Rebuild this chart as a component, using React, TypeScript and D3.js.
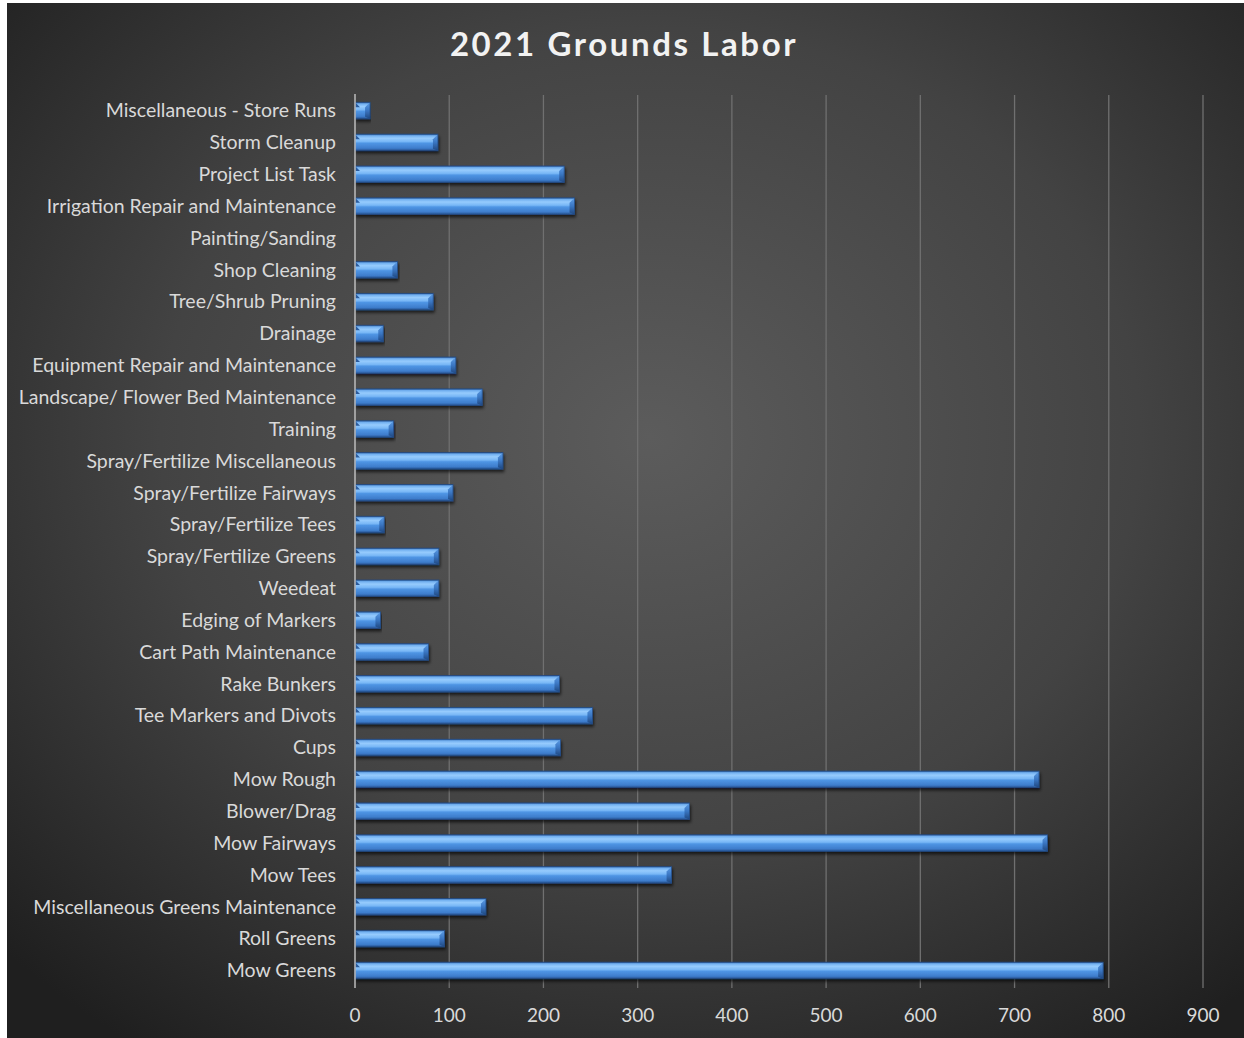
import React from "react";
import * as d3 from "d3";

const categories: string[] = [
  "Miscellaneous - Store Runs",
  "Storm Cleanup",
  "Project List Task",
  "Irrigation Repair and Maintenance",
  "Painting/Sanding",
  "Shop Cleaning",
  "Tree/Shrub Pruning",
  "Drainage",
  "Equipment Repair and Maintenance",
  "Landscape/ Flower Bed Maintenance",
  "Training",
  "Spray/Fertilize Miscellaneous",
  "Spray/Fertilize Fairways",
  "Spray/Fertilize Tees",
  "Spray/Fertilize Greens",
  "Weedeat",
  "Edging of Markers",
  "Cart Path Maintenance",
  "Rake Bunkers",
  "Tee Markers and Divots",
  "Cups",
  "Mow Rough",
  "Blower/Drag",
  "Mow Fairways",
  "Mow Tees",
  "Miscellaneous Greens Maintenance",
  "Roll Greens",
  "Mow Greens",
];

const hours: number[] = [
  16, 88, 222, 233, 1, 45, 83, 30, 107, 135, 41, 157, 104, 31, 89, 89, 27, 78,
  217, 252, 218, 726, 355, 735, 336, 139, 95, 794,
];

const xTicks: number[] = [0, 100, 200, 300, 400, 500, 600, 700, 800, 900];

const title = "2021 Grounds Labor";

const W = 1244;
const H = 1038;
const FONT = "Lato, 'Open Sans', 'Liberation Sans', sans-serif";

export default function App() {
  const x = d3.scaleLinear().domain([0, 900]).range([355, 1203]);
  const y = d3
    .scaleBand<string>()
    .domain(categories)
    .range([94, 987])
    .paddingInner(0.48)
    .paddingOuter(0.26);
  const bh = y.bandwidth();

  return (
    <svg
      width={W}
      height={H}
      style={{ position: "absolute", left: 0, top: 0, background: "#fff" }}
    >
      <defs>
        <radialGradient id="bg" cx="52%" cy="42%" r="72%">
          <stop offset="0%" stopColor="#5c5c5c" />
          <stop offset="55%" stopColor="#434343" />
          <stop offset="100%" stopColor="#1f1f1f" />
        </radialGradient>
        <linearGradient id="barG" x1="0" y1="0" x2="0" y2="1">
          <stop offset="0%" stopColor="#2f63a8" />
          <stop offset="10%" stopColor="#72b0f0" />
          <stop offset="25%" stopColor="#96cbfd" />
          <stop offset="45%" stopColor="#78b7f6" />
          <stop offset="55%" stopColor="#4f95e4" />
          <stop offset="85%" stopColor="#3e7dcc" />
          <stop offset="100%" stopColor="#244f8c" />
        </linearGradient>
        <linearGradient id="capG" x1="0" y1="0" x2="0" y2="1">
          <stop offset="0%" stopColor="#5c9ce6" />
          <stop offset="50%" stopColor="#3a76c2" />
          <stop offset="100%" stopColor="#1f4780" />
        </linearGradient>
        <filter id="shadow" x="-5%" y="-50%" width="110%" height="220%">
          <feDropShadow dx="1" dy="2.5" stdDeviation="1.6" floodColor="#000" floodOpacity="0.65" />
        </filter>
      </defs>
      <rect x={7} y={3} width={W - 7} height={H - 3} fill="url(#bg)" />

      <text
        x={624}
        y={56}
        textAnchor="middle"
        fill="#f2f2f2"
        fontFamily={FONT}
        fontWeight={700}
        fontSize={33}
        letterSpacing={2.6}
      >
        {title}
      </text>

      {xTicks.slice(1).map((t) => (
        <line
          key={"g" + t}
          x1={x(t)}
          x2={x(t)}
          y1={95}
          y2={988}
          stroke="#707070"
          strokeWidth={1.3}
        />
      ))}

      {categories.map((c, i) => {
        const v = hours[i];
        const x0 = x(0);
        const x1 = x(v);
        const w = x1 - x0;
        const y0 = y(c)!;
        if (w < 1.5) return null;
        const b = Math.min(5, w / 2);
        return (
          <g key={c} filter="url(#shadow)">
            <rect x={x0} y={y0} width={w} height={bh} fill="url(#barG)" />
            <polygon
              points={`${x1 - b},${y0 + b} ${x1},${y0} ${x1},${y0 + bh} ${x1 - b},${y0 + bh - 2}`}
              fill="url(#capG)"
            />
            <polygon
              points={`${x0},${y0} ${x0 + b},${y0 + b} ${x0},${y0 + b}`}
              fill="#2a5a9c"
            />
            <rect x={x0} y={y0} width={w} height={bh} fill="none" stroke="#234a82" strokeWidth={0.8} />
          </g>
        );
      })}

      <line x1={x(0)} x2={x(0)} y1={94} y2={988} stroke="#bdbdbd" strokeWidth={1.5} />

      {categories.map((c) => (
        <text
          key={"l" + c}
          x={336}
          y={y(c)! + bh / 2}
          dy="0.35em"
          textAnchor="end"
          fill="#d9d9d9"
          fontFamily={FONT}
          fontSize={19.5}
        >
          {c}
        </text>
      ))}

      {xTicks.map((t) => (
        <text
          key={"t" + t}
          x={x(t)}
          y={1015}
          dy="0.35em"
          textAnchor="middle"
          fill="#d9d9d9"
          fontFamily={FONT}
          fontSize={19}
        >
          {t}
        </text>
      ))}
    </svg>
  );
}
